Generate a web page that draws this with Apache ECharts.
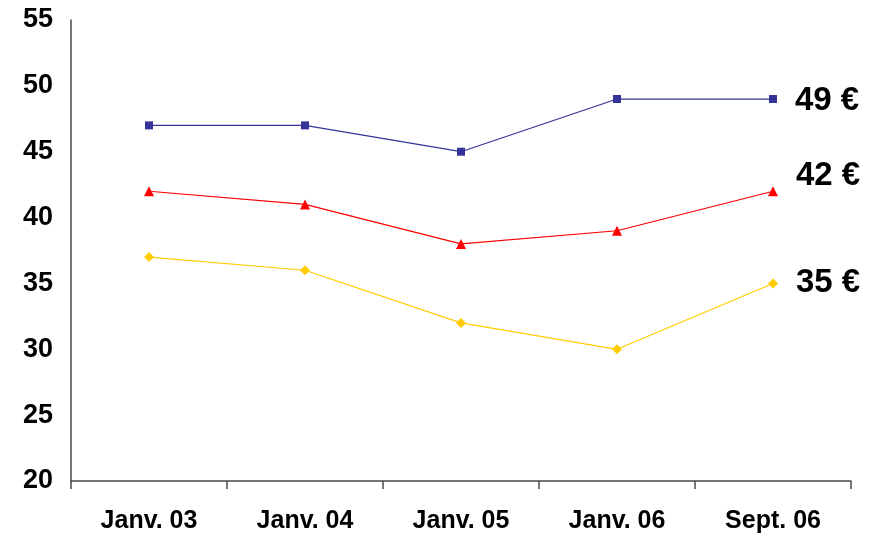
<!DOCTYPE html>
<html>
<head>
<meta charset="utf-8">
<script src="https://cdn.jsdelivr.net/npm/echarts@6/dist/echarts.min.js"></script>
<style>
  html, body { margin: 0; padding: 0; background: #ffffff; }
  #chart { width: 876px; height: 534px; }
</style>
</head>
<body>
<div id="chart"></div>
<script>
// Price trend, three series by period
const categories = ['Janv. 03', 'Janv. 04', 'Janv. 05', 'Janv. 06', 'Sept. 06'];
const seriesHigh = [47, 47, 45, 49, 49];
const seriesMid = [42, 41, 38, 39, 42];
const seriesLow = [37, 36, 32, 30, 35];
const yTicks = { min: 20, max: 55, step: 5 };

const FONT = '"Liberation Sans", Arial, Helvetica, sans-serif';
const AXIS_COLOR = '#4a4a4a';

// Only the last point of each line carries a price label
function withEndLabel(values, offsetY) {
  return values.map((v, i) => {
    if (i !== values.length - 1) return v;
    return {
      value: v,
      label: {
        show: true,
        position: 'right',
        distance: 18,
        offset: [0, offsetY],
        formatter: p => p.value + ' €',
        color: '#000000',
        fontFamily: FONT,
        fontWeight: 'bold',
        fontSize: 33
      }
    };
  });
}

const chart = echarts.init(document.getElementById('chart'), null, { renderer: 'canvas' });
chart.setOption({
  animation: false,
  backgroundColor: '#ffffff',
  grid: { left: 71, right: 25, top: 20, bottom: 53, containLabel: false },
  xAxis: {
    type: 'category',
    data: categories,
    boundaryGap: true,
    axisLine: { lineStyle: { color: AXIS_COLOR, width: 1.5 } },
    axisTick: { show: true, length: 8, lineStyle: { color: AXIS_COLOR, width: 1.5 } },
    axisLabel: {
      color: '#000000',
      fontFamily: FONT,
      fontWeight: 'bold',
      fontSize: 25,
      margin: 28
    },
    splitLine: { show: false }
  },
  yAxis: {
    type: 'value',
    min: yTicks.min,
    max: yTicks.max,
    interval: yTicks.step,
    axisLine: { show: true, lineStyle: { color: AXIS_COLOR, width: 1.5 } },
    axisTick: { show: false },
    axisLabel: {
      color: '#000000',
      fontFamily: FONT,
      fontWeight: 'bold',
      fontSize: 27,
      margin: 18
    },
    splitLine: { show: false }
  },
  series: [
    {
      type: 'line',
      data: withEndLabel(seriesHigh, 2),
      symbol: 'rect',
      symbolSize: 8,
      lineStyle: { color: '#333399', width: 1.2 },
      itemStyle: { color: '#333399' }
    },
    {
      type: 'line',
      data: withEndLabel(seriesMid, -15),
      symbol: 'triangle',
      symbolSize: 10,
      lineStyle: { color: '#ff0000', width: 1.2 },
      itemStyle: { color: '#ff0000' }
    },
    {
      type: 'line',
      data: withEndLabel(seriesLow, -1),
      symbol: 'diamond',
      symbolSize: 10,
      lineStyle: { color: '#ffcc00', width: 1.2 },
      itemStyle: { color: '#ffcc00' }
    }
  ]
});
</script>
</body>
</html>
